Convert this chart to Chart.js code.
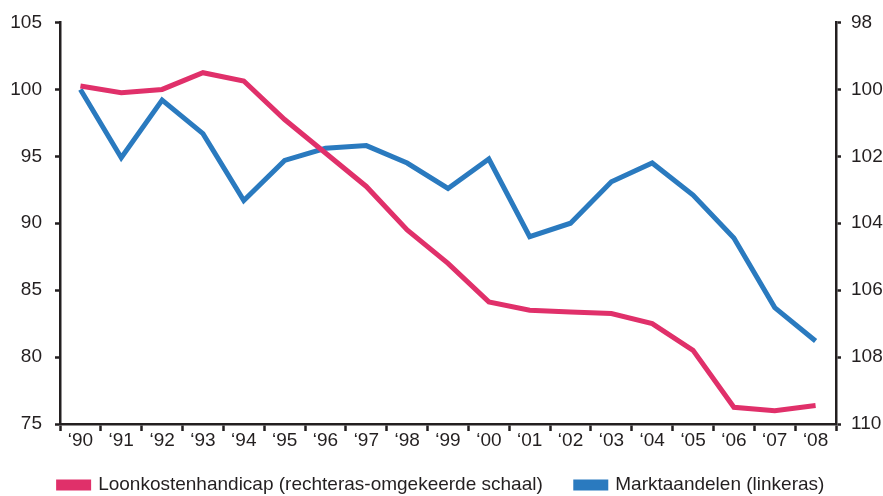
<!DOCTYPE html>
<html lang="nl">
<head>
    <meta charset="UTF-8">
    <title>Loonkostenhandicap en marktaandelen</title>
    <script src="https://cdn.jsdelivr.net/npm/chart.js@4"></script>
    <style>
        html, body {
            margin: 0;
            padding: 0;
            background: #fff;
        }
        .chart-box {
            width: 883px;
            height: 496px;
        }
    </style>
</head>
<body>
    <div class="chart-box">
        <canvas id="chart" width="883" height="496"></canvas>
    </div>

    <script>
        const years = ['‘90', '‘91', '‘92', '‘93', '‘94', '‘95', '‘96', '‘97', '‘98', '‘99',
                       '‘00', '‘01', '‘02', '‘03', '‘04', '‘05', '‘06', '‘07', '‘08'];

        // right axis, reversed scale
        const loonkosten = [99.9, 100.1, 100.0, 99.5, 99.75, 100.9, 101.9, 102.9, 104.2, 105.2,
                            106.35, 106.6, 106.65, 106.7, 107.0, 107.8, 109.5, 109.6, 109.45];

        // left axis
        const marktaandelen = [100.0, 94.9, 99.2, 96.7, 91.7, 94.7, 95.6, 95.8, 94.5, 92.6,
                               94.8, 89.0, 90.0, 93.1, 94.5, 92.1, 88.9, 83.7, 81.2];

        const axisColor = '#231f20';
        const textColor = '#231f20';

        Chart.defaults.font.family = '"Liberation Sans", Arial, sans-serif';
        Chart.defaults.font.size = 19;
        Chart.defaults.font.lineHeight = 1;
        Chart.defaults.color = textColor;

        // legend text sits closer to the axis labels than Chart.js allows
        const legendShift = {
            id: 'legendShift',
            afterLayout(chart) {
                const lg = chart.legend;
                if (lg) {
                    lg.top -= 9.5;
                    lg.bottom -= 9.5;
                }
            }
        };

        new Chart(document.getElementById('chart'), {
            type: 'line',
            data: {
                labels: years,
                datasets: [
                    {
                        label: 'Loonkostenhandicap (rechteras-omgekeerde schaal)',
                        data: loonkosten,
                        yAxisID: 'y2',
                        borderColor: '#e0306a',
                        backgroundColor: '#e0306a',
                        borderWidth: 5,
                        pointRadius: 0,
                        tension: 0
                    },
                    {
                        label: 'Marktaandelen (linkeras)',
                        data: marktaandelen,
                        yAxisID: 'y',
                        borderColor: '#2a7abf',
                        backgroundColor: '#2a7abf',
                        borderWidth: 5,
                        pointRadius: 0,
                        tension: 0
                    }
                ]
            },
            options: {
                responsive: false,
                animation: false,
                layout: {
                    padding: { top: 22, right: 0, bottom: -18, left: 0 }
                },
                plugins: {
                    tooltip: { enabled: false },
                    legend: {
                        position: 'bottom',
                        labels: {
                            boxWidth: 30,
                            boxHeight: 6,
                            padding: 33,
                            color: textColor
                        }
                    }
                },
                scales: {
                    x: {
                        offset: true,
                        grid: {
                            offset: true,
                            drawOnChartArea: false,
                            tickLength: 7,
                            tickColor: axisColor,
                            tickWidth: 2.5
                        },
                        border: { color: axisColor, width: 2.5 },
                        ticks: { padding: 0, maxRotation: 0, autoSkip: false },
                        afterFit: (scale) => { scale.height = 28; }
                    },
                    y: {
                        position: 'left',
                        min: 75,
                        max: 105,
                        ticks: { stepSize: 5, padding: 13 },
                        grid: {
                            drawOnChartArea: false,
                            tickLength: 5,
                            tickColor: axisColor,
                            tickWidth: 2.5
                        },
                        border: { color: axisColor, width: 2.5 },
                        afterFit: (scale) => { scale.width = 60; }
                    },
                    y2: {
                        position: 'right',
                        min: 98,
                        max: 110,
                        reverse: true,
                        ticks: { stepSize: 2, padding: 10 },
                        grid: {
                            drawOnChartArea: false,
                            tickLength: 5,
                            tickColor: axisColor,
                            tickWidth: 2.5
                        },
                        border: { color: axisColor, width: 2.5 },
                        afterFit: (scale) => { scale.width = 47; }
                    }
                }
            },
            plugins: [legendShift]
        });
    </script>
</body>
</html>
